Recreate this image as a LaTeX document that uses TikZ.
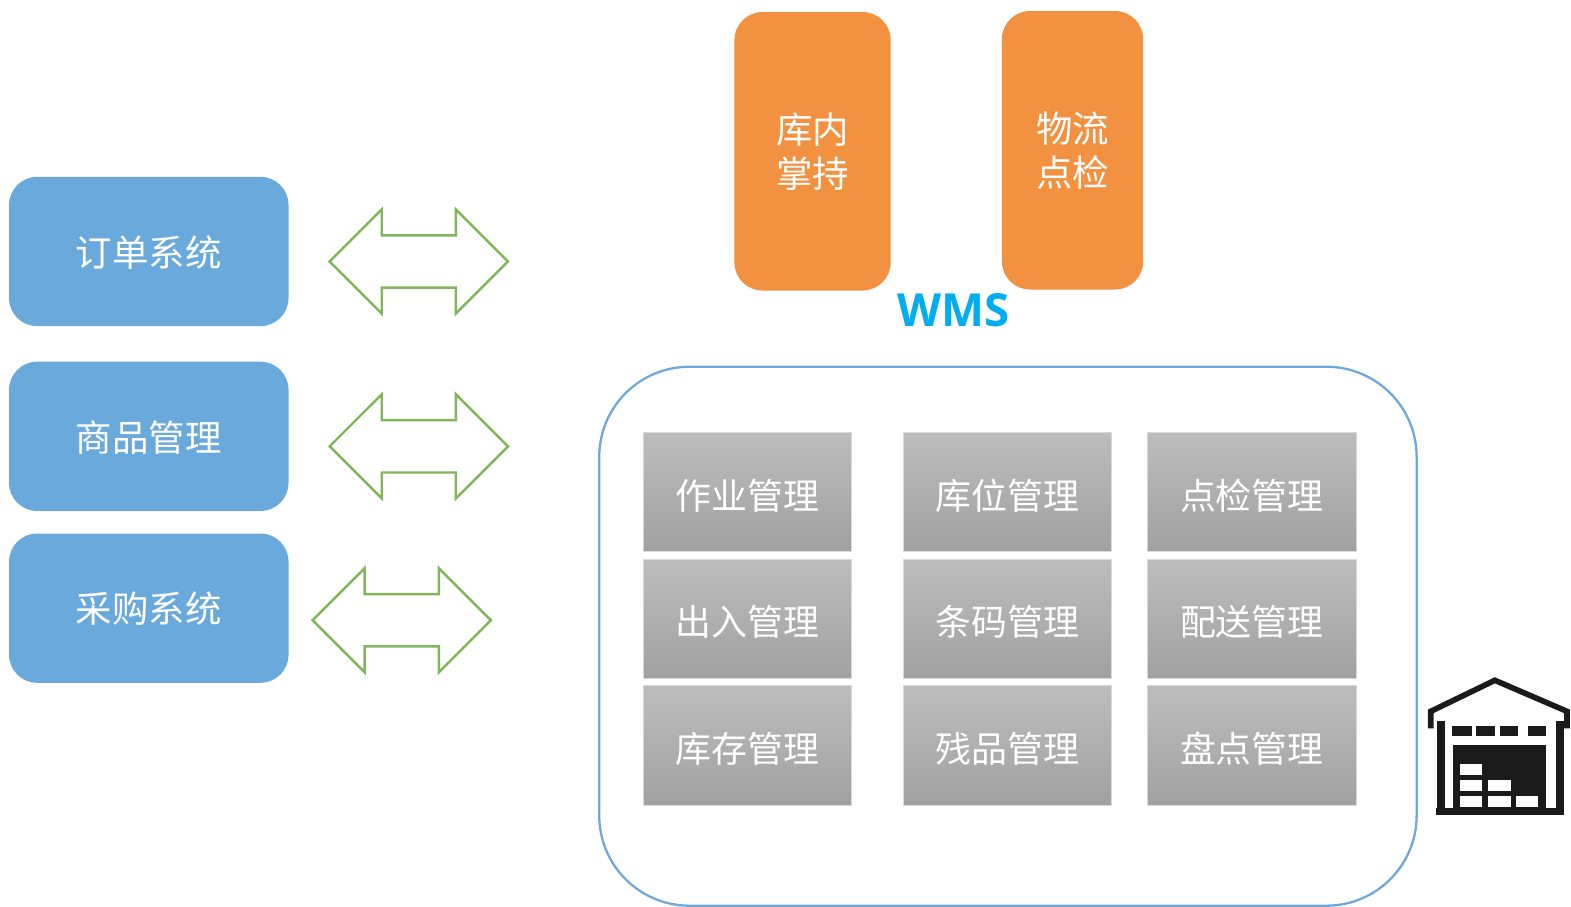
\documentclass[tikz,border=0pt]{standalone}
\usepackage{fontspec}
\setmainfont{Noto Sans CJK SC}
\newfontfamily\wmsfont{Open Sans}
\usetikzlibrary{shapes.arrows}
\definecolor{sysblue}{HTML}{6AA9DC}
\definecolor{handorange}{HTML}{F29140}
\definecolor{arrowgreen}{HTML}{7FB75A}
\definecolor{wmscyan}{HTML}{00AEEF}
\definecolor{framblue}{HTML}{6FA8DA}
\definecolor{iconblack}{HTML}{1A1A1A}
\tikzset{
  sysbox/.style={rounded corners=0.56cm,fill=sysblue,text=white,font=\fontsize{20.7}{24}\selectfont,text height=19pt,text depth=2.2pt,minimum width=5.58cm,minimum height=2.98cm,inner sep=0pt},
  handbox/.style={rounded corners=0.56cm,fill=handorange,text=white,font=\fontsize{20.7}{25}\selectfont,align=center,minimum height=5.56cm,inner sep=0pt},
  modbox/.style={draw=black!15,line width=0.4pt,top color=black!26,bottom color=black!37,text=white,font=\fontsize{20.4}{24}\selectfont,text height=21pt,text depth=1.6pt,minimum width=4.16cm,minimum height=2.38cm,inner sep=0pt},
  duplex/.style={double arrow,draw=arrowgreen,line width=1.4pt,fill=white,minimum height=3.56cm,minimum width=2.08cm,double arrow head extend=0.51cm,double arrow tip angle=90,inner xsep=0pt,inner ysep=0.49cm},
  iconpart/.style={fill=iconblack}
}
\begin{document}
\begin{tikzpicture}[x=0.02cm,y=-0.02cm]
  \useasboundingbox (0,0) rectangle (1568,905);

  \node (order) [sysbox] at (148.5,251) {订单系统};
  \node (goods) [sysbox] at (148.5,435.5) {商品管理};
  \node (buy) [sysbox] at (148.5,607) {采购系统};

  \node (link1) [duplex] at (418,261) {};
  \node (link2) [duplex] at (418,445.5) {};
  \node (link3) [duplex] at (401,619) {};

  \node (hand) [handbox,minimum width=3.12cm] at (811,151) {库内\\掌持};
  \node (check) [handbox,minimum width=2.82cm] at (1070.5,150) {物流\\点检};
  \node (wms) [text=wmscyan,font=\wmsfont\bfseries\fontsize{25.9}{30}\selectfont] at (951.5,310) {WMS};

  \node (frame) [draw=framblue,line width=1.3pt,rounded corners=1.8cm,minimum width=16.32cm,minimum height=10.76cm] at (1006,635) {};

  \node (m11) [modbox] at (746,491) {作业管理};
  \node (m12) [modbox] at (1005.5,491) {库位管理};
  \node (m13) [modbox] at (1249.5,491) {点检管理};
  \node (m21) [modbox] at (746,617.5) {出入管理};
  \node (m22) [modbox] at (1005.5,617.5) {条码管理};
  \node (m23) [modbox] at (1249.5,617.5) {配送管理};
  \node (m31) [modbox] at (746,744) {库存管理};
  \node (m32) [modbox] at (1005.5,744) {残品管理};
  \node (m33) [modbox] at (1249.5,744) {盘点管理};

  \begin{scope}[shift={(-3,-2)}]
    \draw [iconblack,line width=3.2pt,line join=miter] (1431,729) -- (1431,712) -- (1495,681) -- (1567,712) -- (1567,729);
    \fill [iconpart] (1437,722) rectangle (1445,812);
    \fill [iconpart] (1556,722) rectangle (1564,812);
    \fill [iconpart] (1436,808) rectangle (1564,815);
    \fill [iconpart] (1452,727) rectangle (1472,737);
    \fill [iconpart] (1476,727) rectangle (1495,737);
    \fill [iconpart] (1500,727) rectangle (1518,737);
    \fill [iconpart] (1528,727) rectangle (1546,737);
    \fill [iconpart] (1453,746) rectangle (1546,808);
    \fill [white] (1460,765) rectangle (1482,776);
    \fill [white] (1460,781) rectangle (1482,791);
    \fill [white] (1488,781) rectangle (1511,791);
    \fill [white] (1460,796) rectangle (1482,807);
    \fill [white] (1488,796) rectangle (1511,807);
    \fill [white] (1516,796) rectangle (1538,807);
  \end{scope}
\end{tikzpicture}
\end{document}
